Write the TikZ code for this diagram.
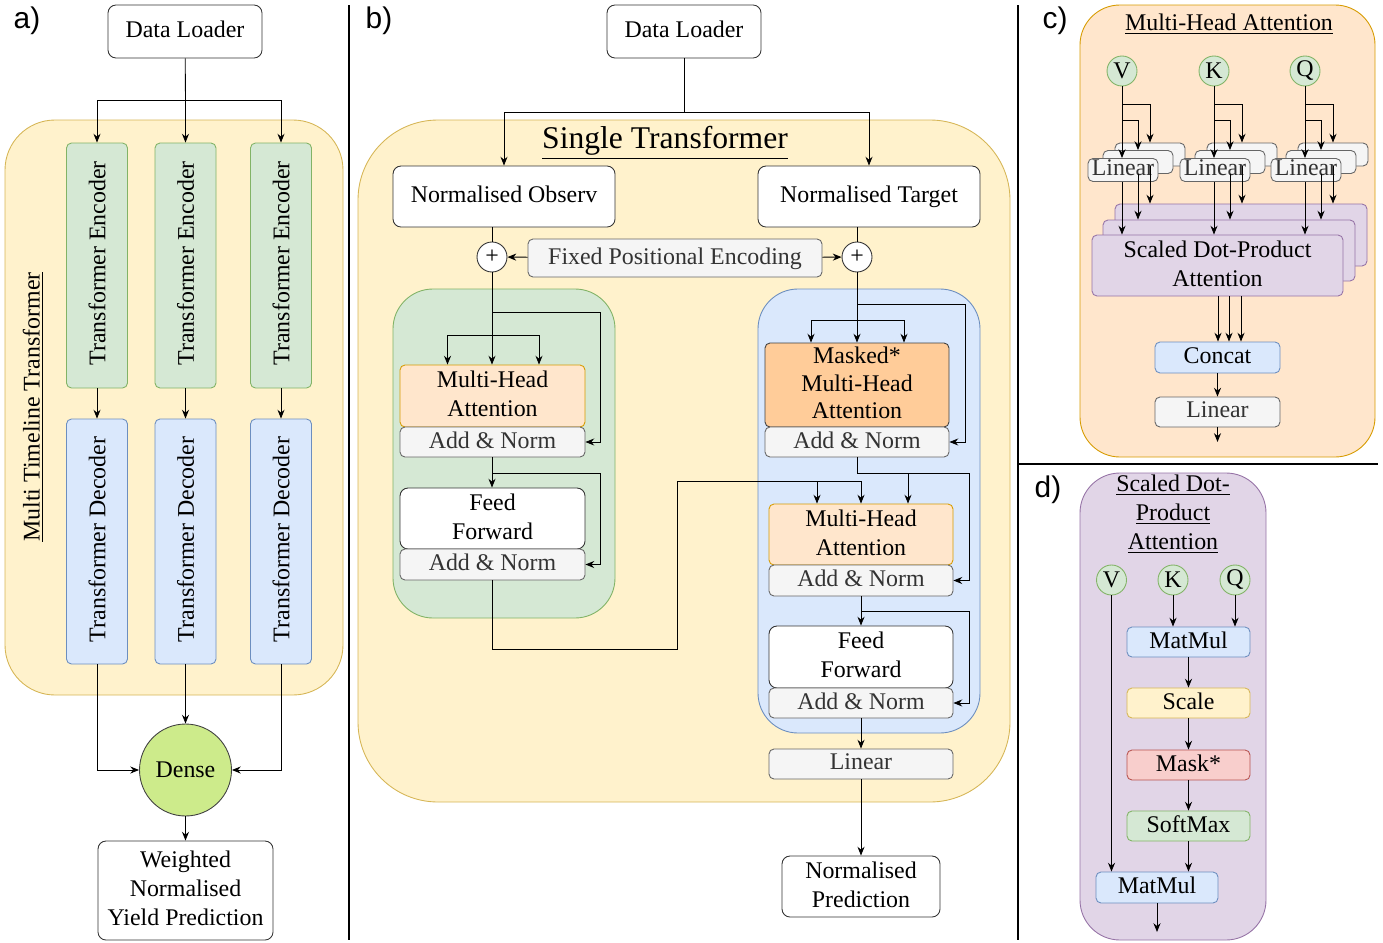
\documentclass[tikz,border=0pt]{standalone}
\usepackage{fontspec}
\usepackage{graphicx}
\setmainfont{Liberation Serif}
\newfontfamily\lsans{Liberation Sans}
\usetikzlibrary{arrows.meta,calc}
\definecolor{yfill}{HTML}{FFF2CC}\definecolor{ydraw}{HTML}{D6B656}
\definecolor{gfill}{HTML}{D5E8D4}\definecolor{gdraw}{HTML}{82B366}
\definecolor{bfill}{HTML}{DAE8FC}\definecolor{bdraw}{HTML}{6C8EBF}
\definecolor{ofill}{HTML}{FFE6CC}\definecolor{odraw}{HTML}{D79B00}
\definecolor{mfill}{HTML}{FFCC99}
\definecolor{grfill}{HTML}{F5F5F5}\definecolor{grdraw}{HTML}{666666}\definecolor{grtext}{HTML}{333333}
\definecolor{pfill}{HTML}{E1D5E7}\definecolor{pdraw}{HTML}{9673A6}
\definecolor{rfill}{HTML}{F8CECC}\definecolor{rdraw}{HTML}{B85450}
\definecolor{dfill}{HTML}{CDEB8B}
\newcommand\dfont{\fontsize{13.6}{16.4}\selectfont}
\tikzset{
  sz/.style 2 args={minimum width=#1*0.02cm,minimum height=#2*0.02cm},
  blk/.style={rounded corners=0.1cm,align=center,inner sep=0pt,text depth=0.25em},
  wbox/.style={blk,draw=black!80,fill=white,rounded corners=0.16cm},
  grbox/.style={blk,draw=grdraw,fill=grfill,text=grtext},
  gbox/.style={blk,draw=gdraw,fill=gfill},
  bbox/.style={blk,draw=bdraw,fill=bfill},
  obox/.style={blk,draw=odraw,fill=ofill},
  mbox/.style={blk,draw=black!75,fill=mfill,font=\fontsize{13.6}{15.6}\selectfont},
  pbox/.style={blk,draw=pdraw,fill=pfill},
  ybox/.style={blk,draw=ydraw,fill=yfill},
  rbox/.style={blk,draw=rdraw,fill=rfill},
  cont/.style={rounded corners=0.8cm,inner sep=0pt},
  circ/.style={circle,draw=gdraw,fill=gfill,minimum size=0.6cm,inner sep=0pt},
  plus/.style={circle,draw=black!80,fill=white,minimum size=0.6cm,inner sep=0pt},
  arr/.style={-{Stealth[length=5pt,width=4pt]}},
  sep/.style={line width=1.6pt},
  letter/.style={font=\lsans\fontsize{17}{20}\selectfont}
}
\begin{document}
\begin{tikzpicture}[x=0.02cm,y=-0.02cm,line width=0.5pt,font=\dfont]
\useasboundingbox (0,0) rectangle (1383,943);
% a)
\node[letter] (la) at (27,21) {a)};
\node[wbox,sz={154}{53}] (dlA) at (185,31.5) {Data Loader};
\node[cont,draw=ydraw,fill=yfill,rounded corners=1cm,sz={338}{575}] (multiA) at (174,407.5) {};
\node[rotate=90] (multiT) at (33,407) {\underline{Multi Timeline Transformer}};
\foreach[count=\k] \x in {97,185.5,281}{
  \node[gbox,sz={61}{245}] (enc\k) at (\x,265.5) {\rotatebox{90}{Transformer Encoder}};
  \node[bbox,sz={61}{245}] (dec\k) at (\x,541.5) {\rotatebox{90}{Transformer Decoder}};
  \draw[arr] (enc\k) -- (dec\k);
}
\coordinate (splitA) at (185.5,100);
\draw (dlA) -- (splitA);
\draw[arr] (splitA) -- (enc2);
\draw[arr] (splitA) -| (enc1);
\draw[arr] (splitA) -| (enc3);
\node[circle,draw=black!75,fill=dfill,minimum size=1.84cm,inner sep=0pt] (dense) at (185.5,770) {Dense};
\node[wbox,sz={175}{99}] (wnyp) at (185.5,890.5) {Weighted\\Normalised\\Yield Prediction};
\draw[arr] (dec2) -- (dense);
\draw[arr] (dec1) |- (dense);
\draw[arr] (dec3) |- (dense);
\draw[arr] (dense) -- (wnyp);
% b)
\node[letter] (lb) at (379,21) {b)};
\node[wbox,sz={154}{53}] (dlB) at (684,31.5) {Data Loader};
\node[cont,draw=ydraw,fill=yfill,rounded corners=1.6cm,sz={652}{682}] (single) at (684,461) {};
\node (singleT) at (665,143) {\fontsize{18}{21}\selectfont\underline{Single Transformer}};
\node[wbox,sz={222}{61}] (nobs) at (504,196.5) {Normalised Observ};
\node[wbox,sz={222}{61}] (ntgt) at (869,196.5) {Normalised Target};
\coordinate (splitB) at (684,112);
\draw (dlB) -- (splitB);
\draw[arr] (splitB) -| (nobs);
\draw[arr] (splitB) -| (ntgt);
\node[plus] (plA) at (492,257) {+};
\node[plus] (plB) at (857,257) {+};
\node[grbox,sz={294}{38}] (fpe) at (675,258) {Fixed Positional Encoding};
\draw (nobs.south -| plA) -- (plA);
\draw (ntgt.south -| plB) -- (plB);
\draw[arr] (fpe) -- (plA);
\draw[arr] (fpe) -- (plB);
\node[cont,draw=gdraw,fill=gfill,sz={222}{329}] (encB) at (504,453.5) {};
\node[obox,sz={185}{62}] (mhaE) at (492.5,396) {Multi-Head\\Attention};
\node[grbox,sz={185}{30}] (anE1) at (492.5,442) {Add \& Norm};
\node[wbox,sz={185}{61}] (ffE) at (492.5,518.5) {Feed\\Forward};
\node[grbox,sz={185}{31}] (anE2) at (492.5,564.5) {Add \& Norm};
\coordinate (rE1) at (492,312);
\coordinate (qkvE) at (492,335);
\coordinate (rE2) at (492,473);
\draw[arr] (plA) -- (plA |- mhaE.north);
\draw[arr] (rE1) -- ++(108,0) |- (anE1);
\draw[arr] (qkvE) -| ([xshift=-0.9cm]mhaE.north);
\draw[arr] (qkvE) -| ([xshift=0.93cm]mhaE.north);
\draw[arr] (anE1.south -| plA) -- (plA |- ffE.north);
\draw[arr] (rE2) -- ++(108,0) |- (anE2);
\node[cont,draw=bdraw,fill=bfill,sz={222}{444}] (decB) at (869,511) {};
\node[mbox,sz={184}{84}] (mmha) at (857,385) {Masked*\\Multi-Head\\Attention};
\node[grbox,sz={184}{30}] (anD1) at (857,442) {Add \& Norm};
\node[obox,sz={184}{61}] (mhaD) at (861,534.5) {Multi-Head\\Attention};
\node[grbox,sz={184}{31}] (anD2) at (861,580.5) {Add \& Norm};
\node[wbox,sz={184}{62}] (ffD) at (861,657) {Feed\\Forward};
\node[grbox,sz={184}{30}] (anD3) at (861,703) {Add \& Norm};
\node[grbox,sz={184}{30}] (linB) at (861,764) {Linear};
\node[wbox,sz={158}{61}] (npred) at (861,886.5) {Normalised\\Prediction};
\coordinate (rD1) at (857,304);
\coordinate (qkvD) at (857,320);
\coordinate (rD2) at (857,473);
\coordinate (rD3) at (861,611);
\coordinate (memA) at (677,649);
\coordinate (memB) at (677,481);
\draw[arr] (plB) -- (mmha);
\draw[arr] (rD1) -- ++(108,0) |- (anD1);
\draw[arr] (qkvD) -| ([xshift=-0.92cm]mmha.north);
\draw[arr] (qkvD) -| ([xshift=0.94cm]mmha.north);
\draw (anD1) -- (rD2);
\draw[arr] (rD2) -- ++(112,0) |- (anD2);
\draw[arr] (rD2) -| ([xshift=0.94cm]mhaD.north);
\draw (anE2.south -| plA) |- (memA) -- (memB);
\draw[arr] (memB) -| ([xshift=-0.88cm]mhaD.north);
\draw[arr] (memB) -| (mhaD);
\draw[arr] (anD2) -- (ffD);
\draw[arr] (rD3) -- ++(108,0) |- (anD3);
\draw[arr] (anD3) -- (linB);
\draw[arr] (linB) -- (npred);
% c)
\node[letter] (lc) at (1055,21) {c)};
\node[cont,draw=odraw,fill=ofill,sz={295}{452}] (mhaC) at (1227.5,231) {};
\node (mhaT) at (1229,24) {\underline{Multi-Head Attention}};
\node[pbox,sz={252}{62}] (sdpB) at (1241,235) {};
\node[pbox,sz={252}{61}] (sdpM) at (1229,250.5) {};
\node[pbox,sz={251}{61}] (sdpF) at (1217.5,265.5) {Scaled Dot-Product\\Attention};
\foreach \n/\x in {V/1122,K/1214,Q/1305}{
  \node[circ] (c\n) at (\x,71) {\n};
  \node[grbox,sz={70}{23}] (lb\n) at (\x+28,154.5) {};
  \node[grbox,sz={70}{23}] (lm\n) at (\x+16,162) {};
  \node[grbox,sz={70}{23}] (lf\n) at (\x+1,170) {Linear};
}
\foreach \n/\x in {V/1122,K/1214,Q/1305}{
  \coordinate (ja\n) at (\x,120);
  \coordinate (jb\n) at (\x,104);
  \draw[arr] (c\n) -- (c\n |- lf\n.north);
  \draw[arr] (ja\n) -| (lm\n);
  \draw[arr] (jb\n) -| (lb\n);
  \draw[arr] (lf\n.south -| c\n) -- (c\n |- sdpF.north);
  \draw[arr] (lm\n) -- (lm\n |- sdpM.north);
  \draw[arr] (lb\n) -- (lb\n |- sdpB.north);
}
\node[bbox,sz={125}{31}] (concat) at (1217.5,357.5) {Concat};
\node[grbox,sz={125}{30}] (linC) at (1217.5,412) {Linear};
\foreach \x in {1218,1229,1241}
  \draw[arr] (sdpF.south -| \x,0) -- (concat.north -| \x,0);
\coordinate (outC) at (1217.5,442);
\draw[arr] (concat) -- (linC);
\draw[arr] (linC) -- (outC);
% d)
\node[letter] (ld) at (1048,490) {d)};
\node[cont,draw=pdraw,fill=pfill,sz={186}{467}] (sdpD) at (1173,706.5) {};
\node[align=center] (sdpT) at (1173,514) {\underline{Scaled Dot-}\\\underline{Product}\\\underline{Attention}};
\foreach \n/\x in {V/1111.5,K/1173,Q/1235}
  \node[circ] (d\n) at (\x,580) {\n};
\node[bbox,sz={123}{30}] (mm1) at (1188.5,642) {MatMul};
\node[ybox,sz={123}{30}] (scale) at (1188.5,703) {Scale};
\node[rbox,sz={123}{30}] (mask) at (1188.5,765) {Mask*};
\node[gbox,sz={123}{30}] (soft) at (1188.5,826) {SoftMax};
\node[bbox,sz={122}{31}] (mm2) at (1157,887.5) {MatMul};
\coordinate (outD) at (1157,932);
\draw[arr] (dK) -- (dK |- mm1.north);
\draw[arr] (dQ) -- (dQ |- mm1.north);
\draw[arr] (mm1) -- (scale);
\draw[arr] (scale) -- (mask);
\draw[arr] (mask) -- (soft);
\draw[arr] (soft) -- (soft |- mm2.north);
\draw[arr] (dV) -- (dV |- mm2.north);
\draw[arr] (mm2) -- (outD);
% separators
\draw[sep] (349,5) -- (349,940);
\draw[sep] (1018,5) -- (1018,940);
\draw[sep] (1018,464) -- (1378,464);
\end{tikzpicture}
\end{document}
